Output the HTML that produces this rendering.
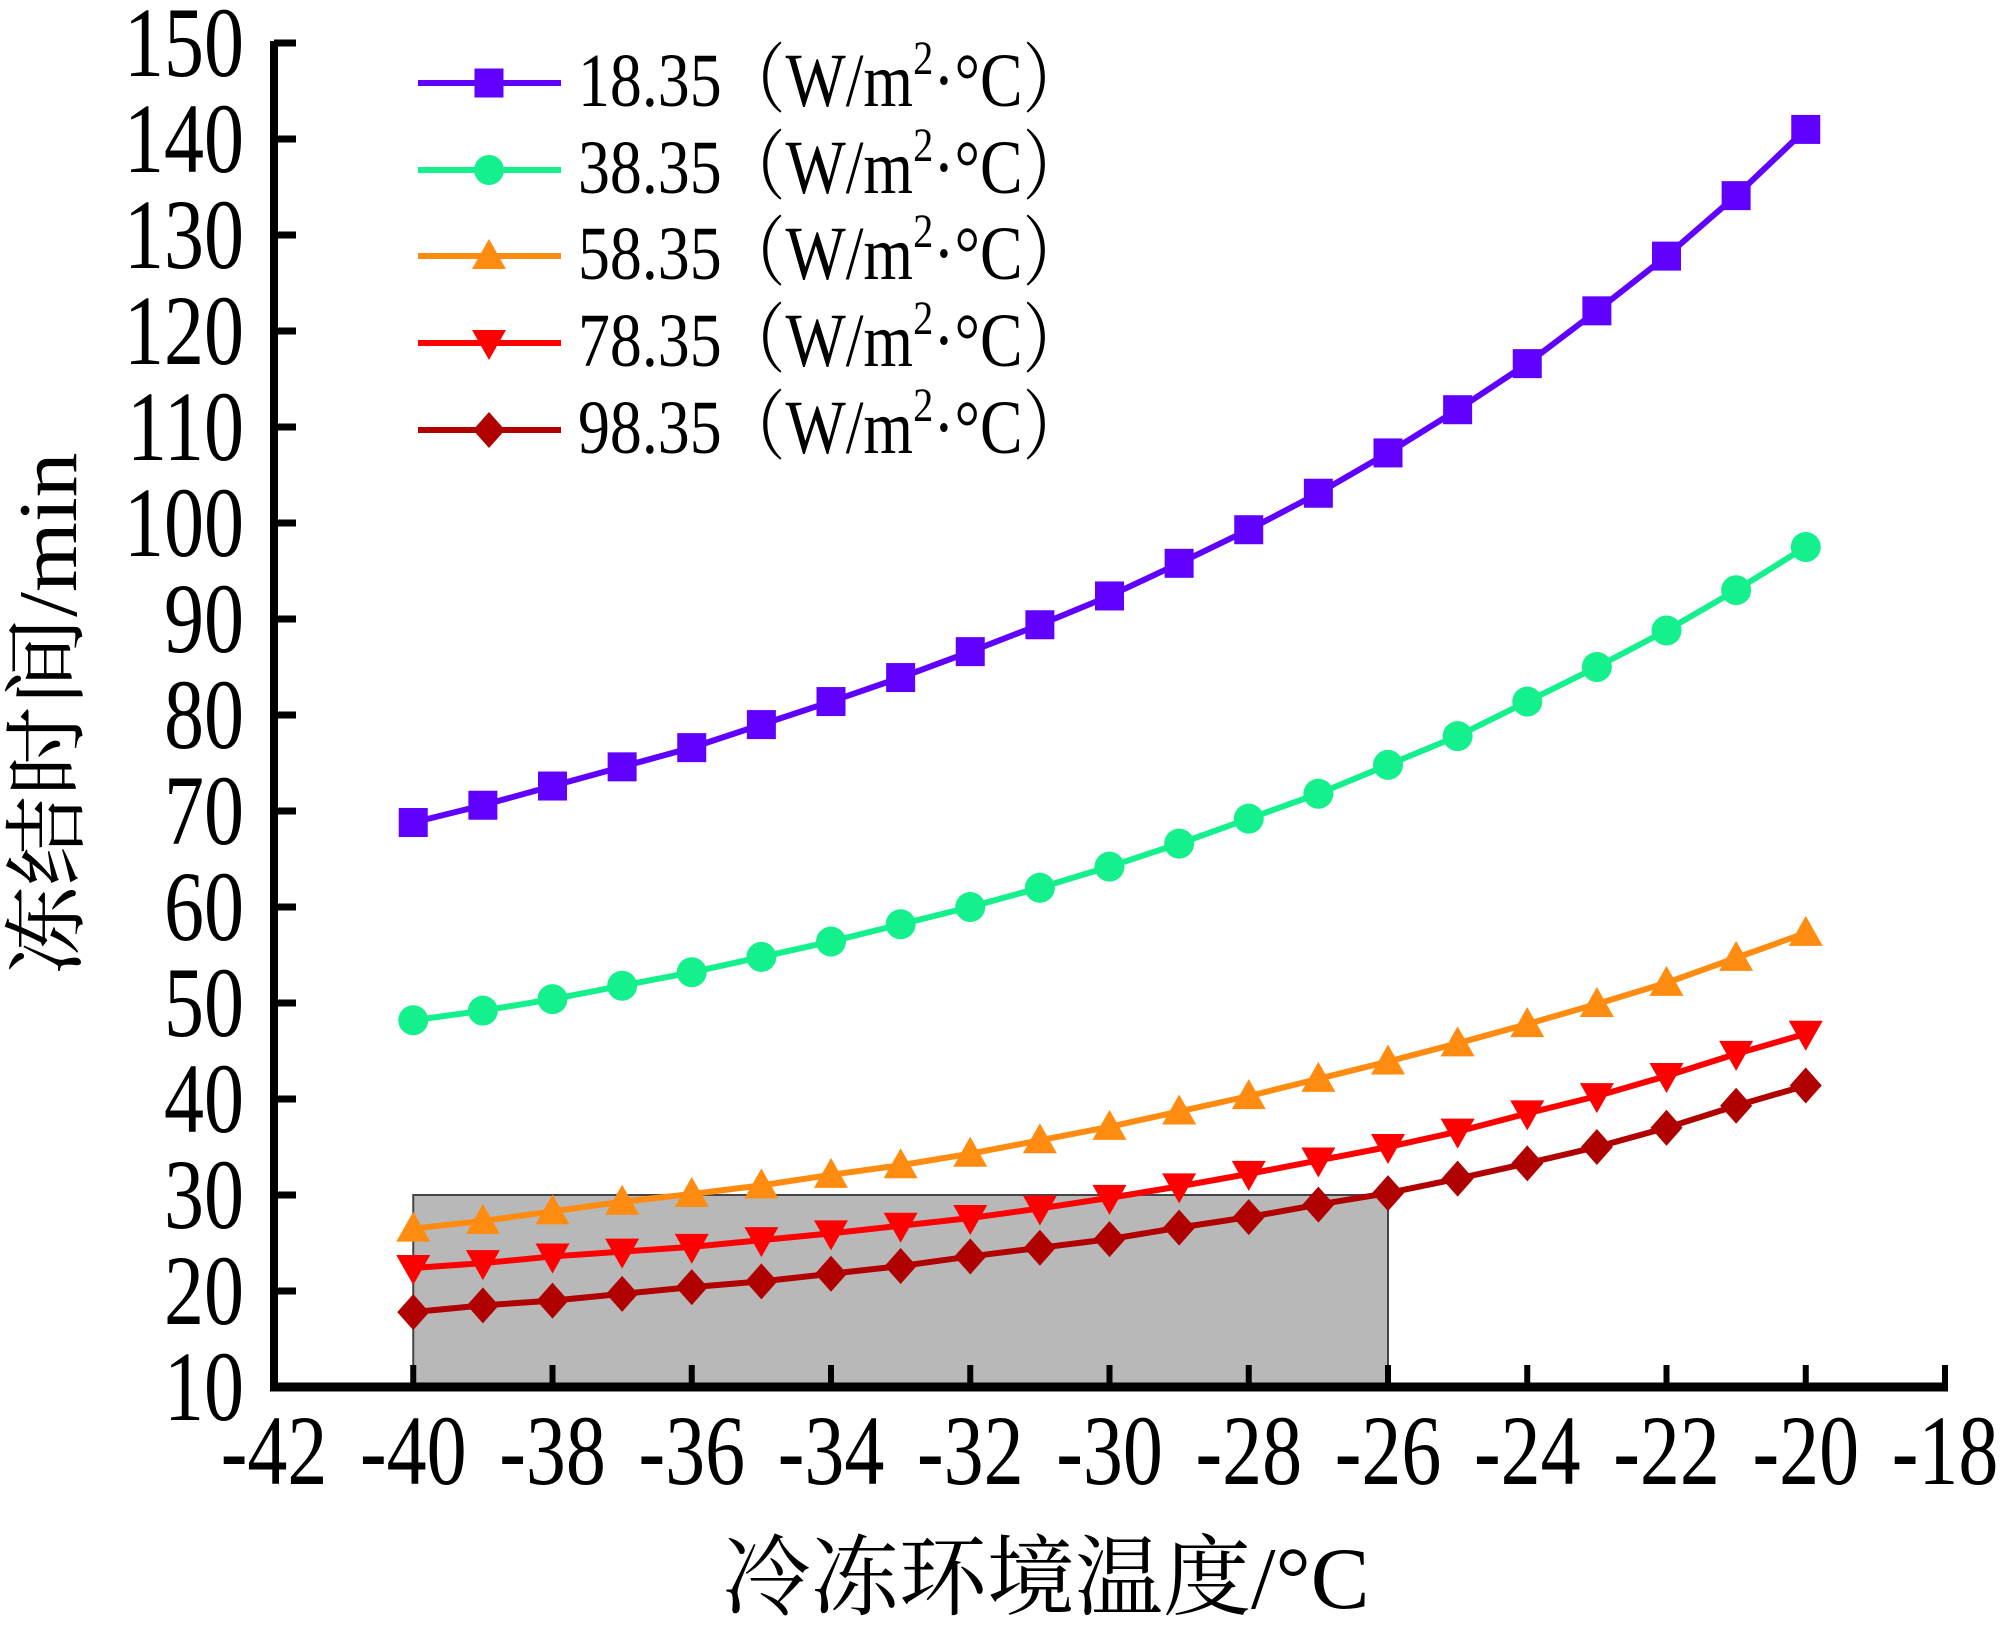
<!DOCTYPE html>
<html><head><meta charset="utf-8"><style>
html,body{margin:0;padding:0;background:#fff;}
svg{display:block;}
text{font-family:"Liberation Serif","Noto Serif CJK SC",serif;fill:#000;}
</style></head><body>
<svg id="chart" width="2000" height="1627" viewBox="0 0 2000 1627" xmlns="http://www.w3.org/2000/svg">
<g id="shade"></g>
<g id="series"></g>
<g id="axes"></g>
<g id="legend"></g>
<text x="0" y="0" font-size="84" text-anchor="middle" textLength="523" lengthAdjust="spacingAndGlyphs" transform="translate(76,714) rotate(-90)">冻结时间/min</text>
<text x="1046" y="1608" font-size="88" text-anchor="middle" textLength="647" lengthAdjust="spacingAndGlyphs">冷冻环境温度/°C</text>
</svg>
<script>
const xVals = [-40,-39,-38,-37,-36,-35,-34,-33,-32,-31,-30,-29,-28,-27,-26,-25,-24,-23,-22,-21,-20];
const s1 = [68.8,70.6,72.6,74.6,76.6,79.0,81.4,83.9,86.6,89.4,92.4,95.8,99.3,103.1,107.3,111.8,116.6,122.1,127.8,134.1,141.0];
const s2 = [48.2,49.2,50.4,51.8,53.2,54.8,56.4,58.2,60.0,62.0,64.2,66.6,69.2,71.8,74.8,77.8,81.4,85.0,88.8,93.0,97.5];
const s3 = [26.5,27.3,28.3,29.3,30.1,31.0,32.1,33.1,34.3,35.7,37.1,38.7,40.3,42.1,43.9,45.8,47.8,49.9,52.1,54.7,57.3];
const s4 = [22.4,22.9,23.6,24.1,24.6,25.3,26.0,26.8,27.6,28.6,29.7,30.9,32.2,33.6,35.0,36.6,38.5,40.3,42.4,44.7,46.8];
const s5 = [17.8,18.5,19.0,19.7,20.4,21.0,21.8,22.6,23.6,24.5,25.4,26.6,27.7,29.0,30.2,31.7,33.3,35.0,37.0,39.3,41.4];
const seriesLabels = ["18.35（W/m","38.35（W/m","58.35（W/m","78.35（W/m","98.35（W/m"];
const xTicks = [-42,-40,-38,-36,-34,-32,-30,-28,-26,-24,-22,-20,-18];
const yTicks = [10,20,30,40,50,60,70,80,90,100,110,120,130,140,150];
const shadeX = [-40,-26];
const shadeY = [10,30];

const NS="http://www.w3.org/2000/svg";
const X0=274,X1=1945,Y0=1387,Y1=43;
const xS=v=>X0+(v-(-42))/24*(X1-X0);
const yS=v=>Y0-(v-10)/140*(Y0-Y1);
function mk(tag,attrs,parent){const e=document.createElementNS(NS,tag);for(const k in attrs)e.setAttribute(k,attrs[k]);parent.appendChild(e);return e;}

const shade=document.getElementById('shade');
const rect=mk('rect',{x:xS(shadeX[0]),y:yS(shadeY[1]),width:xS(shadeX[1])-xS(shadeX[0]),height:yS(shadeY[0])-yS(shadeY[1]),fill:'#b8b8b8',stroke:'#444','stroke-width':2},shade);



const axes=document.getElementById('axes');
const ax1=mk('line',{x1:X0,y1:Y1-2,x2:X0,y2:Y0+4,stroke:'#000','stroke-width':8},axes);


const ax2=mk('line',{x1:X0-4,y1:Y0,x2:X1+3,y2:Y0,stroke:'#000','stroke-width':9},axes);


xTicks.forEach(t=>{
  const x=xS(t);
  const l=mk('line',{x1:x,y1:Y0,x2:x,y2:Y0-22,stroke:'#000','stroke-width':6},axes);
  
  
  const tx=mk('text',{x:0,y:0,'font-size':100,'text-anchor':'middle',transform:`translate(${x},1484) scale(0.8,1)`},axes);
  tx.textContent=String(t);
  
  
});
yTicks.forEach(t=>{
  const y=yS(t);
  const l=mk('line',{x1:X0,y1:y,x2:X0+22,y2:y,stroke:'#000','stroke-width':7},axes);
  
  
  const tx=mk('text',{x:0,y:0,'font-size':100,'text-anchor':'end',transform:`translate(244,${y+33}) scale(0.8,1)`},axes);
  tx.textContent=String(t);
  
  
});

const colors=['#6000ff','#14f08c','#ff8c10','#ff0000','#b00000'];
const shapes=['square','circle','up','down','diamond'];
function marker(shape,x,y,c,p){
  let e;
  if(shape==='square')e=mk('rect',{x:x-14.5,y:y-14.5,width:29,height:29,fill:c},p);
  else if(shape==='circle')e=mk('circle',{cx:x,cy:y,r:15,fill:c},p);
  else if(shape==='up')e=mk('polygon',{points:`${x},${y-17} ${x+17},${y+13} ${x-17},${y+13}`,fill:c},p);
  else if(shape==='down')e=mk('polygon',{points:`${x},${y+17} ${x+17},${y-13} ${x-17},${y-13}`,fill:c},p);
  else e=mk('polygon',{points:`${x},${y-18} ${x+16},${y} ${x},${y+18} ${x-16},${y}`,fill:c},p);
  return e;
}
const sg=document.getElementById('series');
[s1,s2,s3,s4,s5].forEach((s,i)=>{
  const g=mk('g',{},sg);
  
  
  const pts=s.map((v,j)=>xS(xVals[j])+','+yS(v)).join(' ');
  const pl=mk('polyline',{points:pts,fill:'none',stroke:colors[i],'stroke-width':6,'stroke-linejoin':'round'},g);
  
  
  s.forEach((v,j)=>{
    const m=marker(shapes[i],xS(xVals[j]),yS(v),colors[i],g);
    
    
  });
});

const lg=document.getElementById('legend');
const rows=[83,170,256,343,430];
seriesLabels.forEach((lab,i)=>{
  const g=mk('g',{},lg);
  
  
  const y=rows[i];
  mk('line',{x1:418,y1:y,x2:561,y2:y,stroke:colors[i],'stroke-width':6},g);
  marker(shapes[i],489,y,colors[i],g);
  const t=mk('text',{x:0,y:0,'font-size':76,transform:`translate(578,${y+23}) scale(0.84,1)`},g);
  t.textContent=lab;
  const sup=mk('tspan',{'font-size':48,dy:-32},t);
  sup.textContent='2';
  const rest=mk('tspan',{dy:32},t);
  rest.textContent='·°C）';
});
</script>
</body></html>
